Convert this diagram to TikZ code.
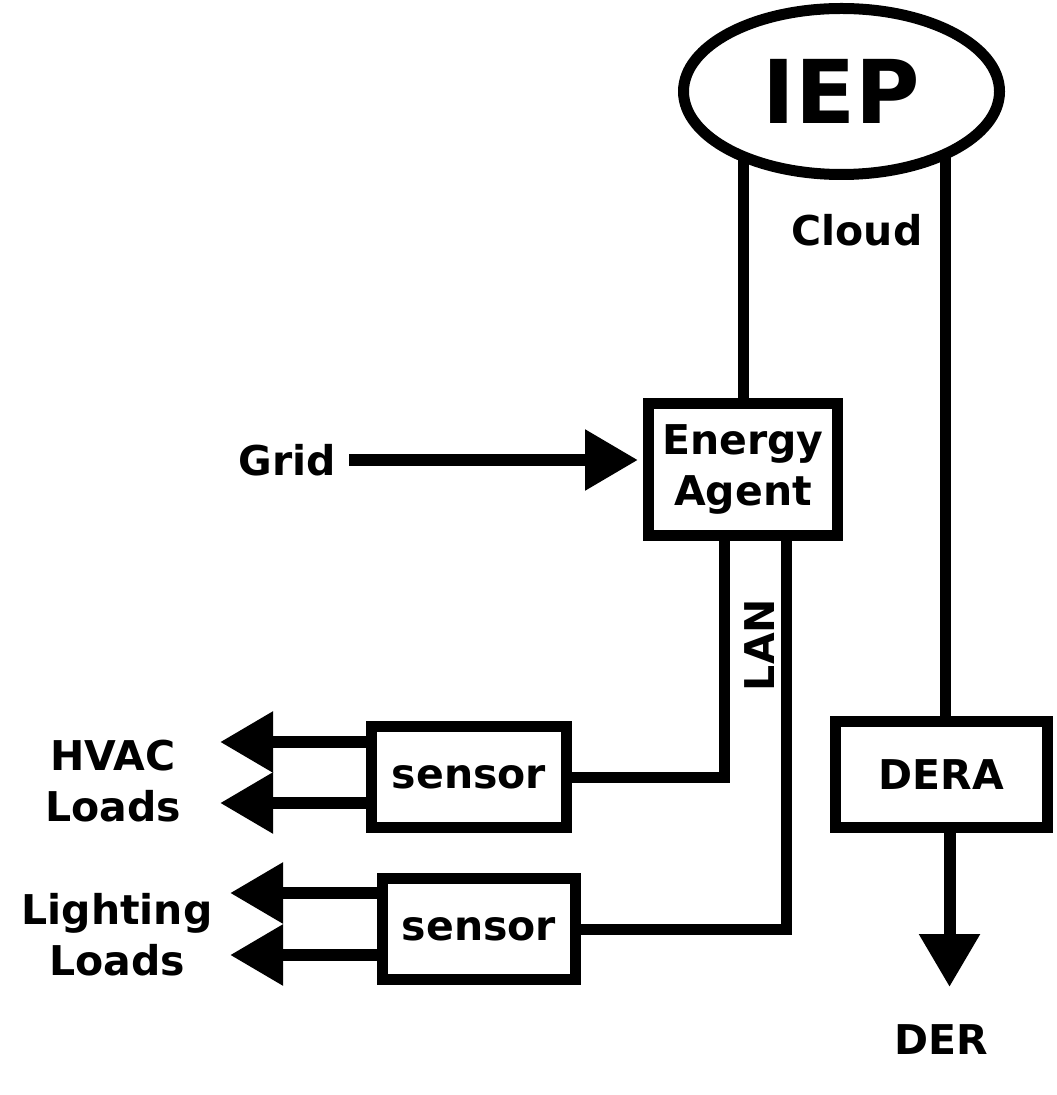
\documentclass[tikz,border=0pt]{standalone}
\usepackage{fontspec}
\setmainfont{DejaVu Sans}
\usetikzlibrary{arrows.meta,shapes.geometric,backgrounds}
\begin{document}
\begin{tikzpicture}[x=0.5pt,y=-0.5pt,
  lbl/.style={font=\bfseries\fontsize{20.5}{25.5}\selectfont, align=center, inner sep=0pt},
  box/.style={draw, line width=5.5pt, fill=white, inner sep=0pt, lbl},
  wire/.style={line width=5.5pt},
  arr/.style={line width=6pt, -{Triangle[length=26.5pt,width=29pt]}}]
\useasboundingbox (0,0) rectangle (1056,1095);

% nodes
\node[ellipse, draw, line width=5.5pt, fill=white, minimum width=158pt, minimum height=83pt,
      inner sep=0pt, font=\bfseries\fontsize{44}{50}\selectfont] (IEP) at (841.5,91.5) {IEP};
\node[box, minimum width=94.5pt, minimum height=66pt] (EA) at (743,469.5) {Energy\\Agent};
\node[box, minimum width=97.5pt, minimum height=50.5pt] (S1) at (469,777) {sensor};
\node[box, minimum width=96.5pt, minimum height=50.5pt] (S2) at (479,929) {sensor};
\node[box, minimum width=106pt, minimum height=53pt] (DERA) at (941.5,774.5) {DERA};

\node[lbl] (Cloud) at (857,230) {Cloud};
\node[lbl] (Grid) at (287,460) {Grid};
\node[lbl, rotate=90] (LAN) at (760,645) {LAN};
\node[lbl] (HVAC) at (113,781) {HVAC\\Loads};
\node[lbl] (Light) at (117,935) {Lighting\\Loads};
\node[lbl] (DER) at (941,1040) {DER};

% white page and connectors behind the shapes
\begin{scope}[on background layer]
\fill[white] (0,0) rectangle (1056,1095);
\draw[wire] (EA.north) -- (EA.north |- IEP.center);
\draw[wire] ([xshift=2pt]DERA.north) -- ([xshift=2pt]DERA.north |- IEP.center);
\draw[wire] ([xshift=-9.5pt]EA.south) |- (S1.east);
\draw[wire] ([xshift=21.5pt]EA.south) |- (S2.east);
\end{scope}

% arrows
\draw[arr] ([xshift=6.5pt]Grid.east) -- ([xshift=-2.5pt]Grid.east -| EA.west);
\draw[arr] ([yshift=17.5pt]S1.west) -- ++(-146,0);
\draw[arr] ([yshift=-13pt]S1.west) -- ++(-146,0);
\draw[arr] ([yshift=18pt]S2.west) -- ++(-147,0);
\draw[arr] ([yshift=-13pt]S2.west) -- ++(-147,0);
\draw[arr] ([xshift=4pt]DERA.south) -- ++(0,154);
\end{tikzpicture}
\end{document}
